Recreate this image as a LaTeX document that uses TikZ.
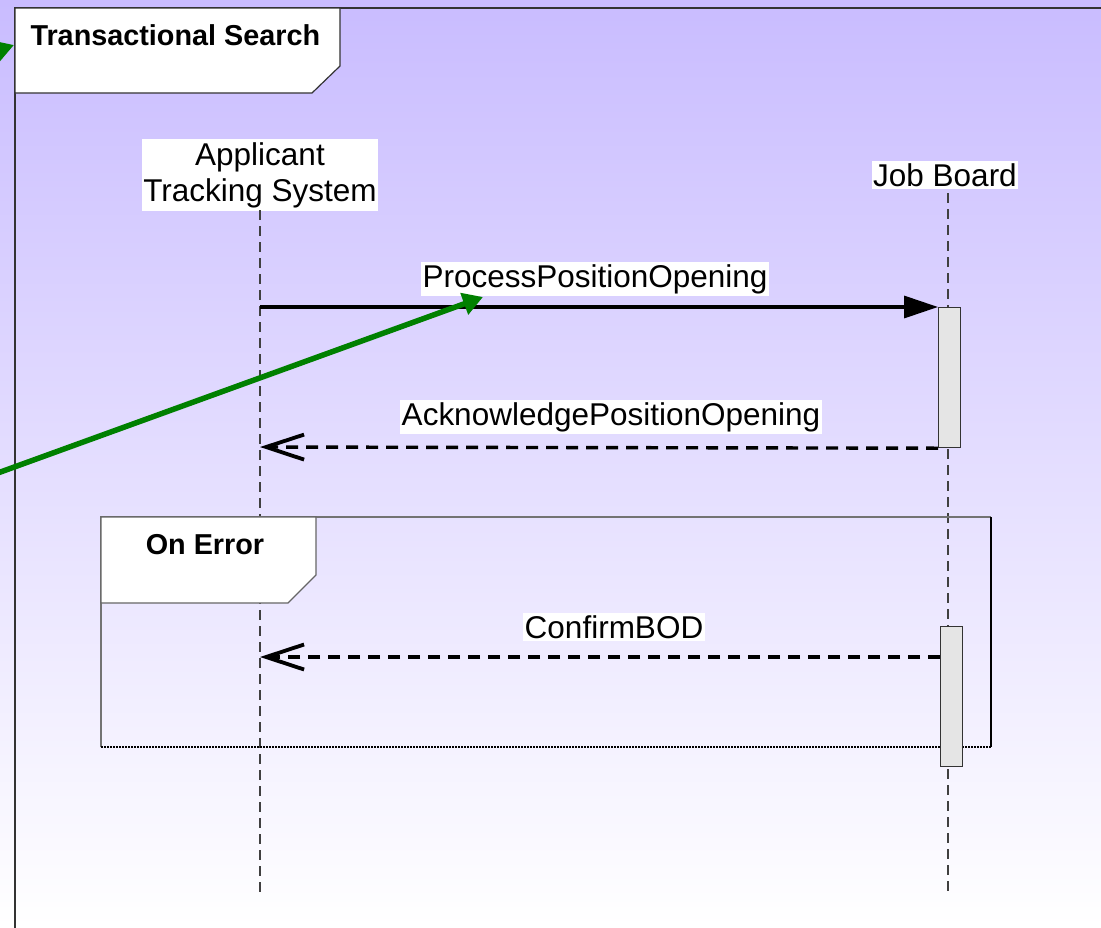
\documentclass[tikz,border=0pt]{standalone}
\usepackage{fontspec}
\setmainfont{Liberation Sans}
\usetikzlibrary{arrows.meta}
\definecolor{bgtop}{RGB}{201,188,255}
\definecolor{grn}{RGB}{0,128,0}
\definecolor{actfill}{RGB}{229,229,229}
\tikzset{
  lbl/.style={fill=white, inner xsep=1.5pt, inner ysep=2pt, font=\fontsize{31.5}{36}\selectfont},
  lifeline/.style={draw=black!75, line width=1.2pt, dash pattern=on 10pt off 6pt},
  actbox/.style={draw=black!80, fill=actfill, line width=1.2pt, minimum width=22pt, anchor=north west, inner sep=0pt},
  msgsync/.style={line width=3.4pt, -{Triangle[length=34pt,width=22pt]}},
  msgret/.style={line width=3.4pt, dash pattern=on 12pt off 8pt, -{Straight Barb[length=38pt,width=25pt,line width=3.8pt]}},
  greenarrow/.style={draw=grn, line width=5.5pt, -{Triangle[length=20pt,width=22pt]}},
  tabtext/.style={font=\fontsize{28.8}{33}\selectfont\bfseries},
}
\begin{document}
\begin{tikzpicture}[x=1pt,y=-1pt]
\useasboundingbox (0,0) rectangle (1101,927);
\shade[top color=bgtop, bottom color=white] (0,0) rectangle (1101,927);
% outer frame
\draw[black!80, line width=1.2pt] (15,935) -- (15,8) -- (1110,8);
\path[fill=white, draw=black!80, line width=1.2pt] (15,8) -- (340,8) -- (340,66) -- (312,93) -- (15,93) -- cycle;
\node[tabtext, anchor=west] (ts) at (27,35) {Transactional Search};
% lifelines
\node[lbl, align=center, inner xsep=1pt, inner ysep=3pt] (ats) at (260,175) {Applicant\\Tracking System};
\node[lbl] (jb) at (945,175) {Job Board};
\coordinate (atsend) at (260,895);
\coordinate (jbend) at (948,895);
\draw[lifeline] (260,210) -- (atsend);
\draw[lifeline] (948,193) -- (jbend);
% On Error frame
\draw[black!55, line width=1.4pt] (101,747) -- (101,517) -- (991,517);
\draw[black, line width=1.2pt] (991,517) -- (991,747);
\draw[black, line width=2.4pt, dash pattern=on 2pt off 1pt] (101,747) -- (991,747);
\path[fill=white, draw=black!60, line width=1.2pt] (101,517) -- (316,517) -- (316,575) -- (288,603) -- (101,603) -- cycle;
\node[tabtext] (oe) at (205,545) {On Error};
% activations
\node[actbox, minimum height=140pt] (act1) at (938,307) {};
\node[actbox, minimum height=140pt] (act2) at (940,626) {};
% messages
\coordinate (a1) at (260,307);
\coordinate (a2) at (260,447);
\coordinate (a3) at (260,657);
\coordinate (b3) at (940,657);
\draw[msgsync] (a1) -- (act1.north west);
\draw[msgret] (act1.south west) -- (a2);
\draw[msgret] (b3) -- (a3);
\node[lbl] (m1) at (595,279) {ProcessPositionOpening};
\node[lbl] (m2) at (611,417) {AcknowledgePositionOpening};
\node[lbl] (m3) at (614,627) {ConfirmBOD};
% green arrows
\coordinate (g1s) at (-5,474);
\coordinate (g1e) at (483,297);
\draw[greenarrow] (g1s) -- (g1e);
\coordinate (g2s) at (-30,60);
\coordinate (g2e) at (14,45);
\draw[greenarrow] (g2s) -- (g2e);
\end{tikzpicture}
\end{document}
